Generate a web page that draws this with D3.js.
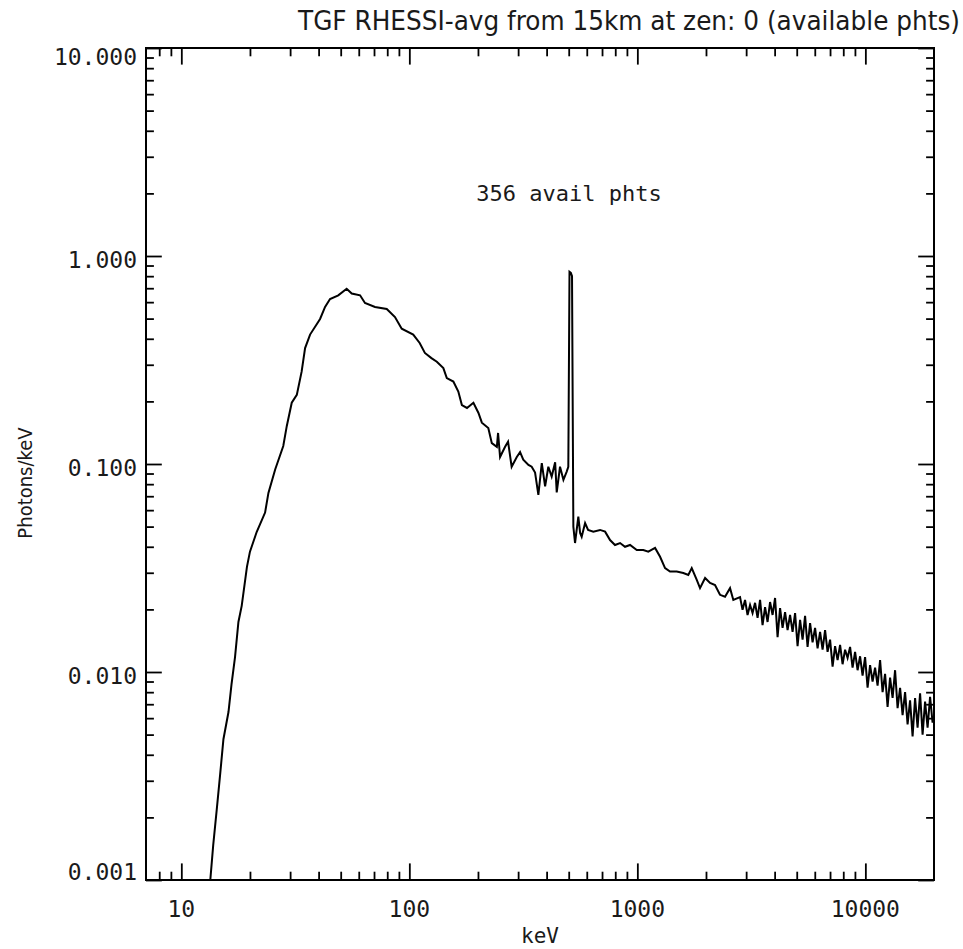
<!DOCTYPE html>
<html>
<head>
<meta charset="utf-8">
<script src="https://cdn.jsdelivr.net/npm/d3@7"></script>
<style>
  body { margin: 0; background: #fff; }
  text { font-family: "DejaVu Sans Condensed", "DejaVu Sans", sans-serif; fill: #1a1a1a; }
  .num { font-family: "DejaVu Sans Mono", "Liberation Mono", monospace; }
</style>
</head>
<body>
<div id="chart"></div>
<script>
// spectrum: energy (keV) and photons/keV
const energy = [13.4, 13.8, 14.3, 14.8, 15.3, 16.1, 16.6, 17.2, 17.8, 18.4, 19.4, 20.0, 21.4, 23.3, 24.1, 25.8,
  28.0, 29.0, 30.5, 32.1, 33.7, 34.9, 36.7, 40.6, 42.7, 44.9, 48.8, 53.1, 55.9, 60.8, 63.9, 70.7, 79.6, 86.5,
  92.6, 104, 111, 117, 125, 132, 141, 146, 156, 164, 170, 179, 191, 201, 208, 222, 230, 242, 245, 250, 263,
  271, 281, 296, 306, 316, 333, 344, 356, 368, 381, 394, 407, 421, 436, 443, 458, 474, 490, 498,
  504, 511, 517,
  524, 533, 551, 561, 570, 590, 608, 641, 686, 722, 759, 798, 840, 883, 929, 994, 1062, 1117, 1196, 1258,
  1323, 1391, 1488, 1591, 1673, 1732, 1822, 1883, 1982, 2084, 2191, 2304, 2424, 2550, 2636,
  2821, 2893, 2967, 3043, 3121, 3201, 3283, 3367, 3453, 3541, 3632, 3725, 3820, 3918, 4018, 4121, 4226,
  4334, 4445, 4559, 4675, 4795, 4918, 5043, 5172, 5305, 5440, 5579, 5722, 5868, 6018, 6172, 6330, 6492,
  6658, 6828, 7003, 7182, 7365, 7554, 7747, 7945, 8148, 8356, 8570, 8789, 9014, 9244, 9481, 9723, 9972,
  10227, 10488, 10756, 11031, 11313, 11603, 11899, 12203, 12515, 12835, 13164, 13500, 13845, 14199, 14562,
  14935, 15317, 15708, 16110, 16522, 16944, 17378, 17822, 18278, 18745, 19224, 19716];

const flux = [0.00100, 0.00147, 0.00218, 0.00322, 0.00475, 0.00642, 0.00871, 0.0118, 0.0174, 0.0208, 0.0320,
  0.0379, 0.0471, 0.0584, 0.0726, 0.0941, 0.122, 0.152, 0.197, 0.215, 0.278, 0.361, 0.419, 0.498, 0.569,
  0.621, 0.647, 0.696, 0.660, 0.647, 0.594, 0.569, 0.556, 0.509, 0.447, 0.419, 0.382, 0.342, 0.323, 0.310,
  0.289, 0.259, 0.249, 0.223, 0.192, 0.186, 0.197, 0.176, 0.158, 0.149, 0.126, 0.121, 0.141, 0.108, 0.121,
  0.128, 0.097, 0.108, 0.114, 0.105, 0.099, 0.097, 0.091, 0.071, 0.101, 0.078, 0.097, 0.087, 0.102, 0.073,
  0.097, 0.084, 0.092, 0.097,
  0.84, 0.83, 0.80,
  0.050, 0.0417, 0.0558, 0.0466, 0.0447, 0.0520, 0.0482, 0.0473, 0.0482, 0.0473, 0.0431, 0.0408, 0.0417,
  0.0400, 0.0408, 0.0386, 0.0386, 0.0379, 0.0395, 0.0358, 0.0316, 0.0304, 0.0304, 0.0299, 0.0293, 0.0316,
  0.0277, 0.0253, 0.0283, 0.0268, 0.0262, 0.0235, 0.0230, 0.0253, 0.0222,
  0.0229, 0.0199, 0.0222, 0.0188, 0.0210, 0.0192, 0.0215, 0.0182, 0.0222, 0.0168, 0.0205, 0.0174, 0.0217,
  0.0188, 0.0227, 0.0147, 0.0203, 0.0163, 0.0194, 0.0159, 0.0188, 0.0156, 0.0192, 0.0133, 0.0178, 0.0143,
  0.0186, 0.0132, 0.0172, 0.0139, 0.0163, 0.0130, 0.0156, 0.0128, 0.0159, 0.0125, 0.0143, 0.0106, 0.0133,
  0.0114, 0.0135, 0.0109, 0.0128, 0.0117, 0.0132, 0.0105, 0.0125, 0.0102, 0.0119, 0.0096, 0.0118, 0.0084,
  0.0108, 0.0090, 0.0105, 0.0086, 0.0114, 0.0080, 0.0098, 0.0068, 0.0094, 0.0075, 0.0102, 0.0067, 0.0084,
  0.0062, 0.0080, 0.0056, 0.0073, 0.0049, 0.0075, 0.0054, 0.0079, 0.0050, 0.0072, 0.0054, 0.0076, 0.0057];

const xMajor = [10, 100, 1000, 10000];
const yMajor = [0.001, 0.01, 0.1, 1, 10];
const xLabels = ["10", "100", "1000", "10000"];
const yLabels = ["0.001", "0.010", "0.100", "1.000", "10.000"];

const titleText = "TGF RHESSI-avg from 15km at zen: 0 (available phts)";
const noteText = "356 avail phts";

const W = 963, H = 949;
const mLeft = 146, mRight = 934, mTop = 48, mBottom = 880;

const svg = d3.select("#chart").append("svg")
  .attr("width", W)
  .attr("height", H);

const x = d3.scaleLog().domain([7, 20000]).range([mLeft, mRight]);
const y = d3.scaleLog().domain([0.001, 10]).range([mBottom, mTop]);

// minor ticks 2..9 in each decade
function minors(lo, hi) {
  const out = [];
  for (let d = Math.pow(10, Math.floor(Math.log10(lo))); d < hi; d *= 10) {
    for (let k = 2; k <= 9; k++) {
      const v = d * k;
      if (v > lo * 1.001 && v < hi * 0.999) out.push(v);
    }
  }
  return out;
}

const xMinor = minors(7, 20000);
const yMinor = minors(0.001, 10);

const majLenX = 16.6, minLenX = 8.3;   // vertical ticks on x axes
const majLenY = 15.8, minLenY = 7.9;   // horizontal ticks on y axes

svg.append("clipPath").attr("id", "plotclip")
  .append("rect")
  .attr("x", mLeft).attr("y", mTop)
  .attr("width", mRight - mLeft).attr("height", mBottom - mTop);

// tick marks, inward on all four sides
function tickGroup(axisFn, scale, vals, len, transform) {
  const g = svg.append("g")
    .attr("transform", transform)
    .call(axisFn(scale).tickValues(vals).tickSize(len).tickFormat(""));
  g.select(".domain").remove();
  g.selectAll("line").attr("stroke", "#000").attr("stroke-width", 1.8);
}

tickGroup(d3.axisBottom, x, xMajor, -majLenX, `translate(0,${mBottom})`);
tickGroup(d3.axisBottom, x, xMinor, -minLenX, `translate(0,${mBottom})`);
tickGroup(d3.axisTop, x, xMajor, -majLenX, `translate(0,${mTop})`);
tickGroup(d3.axisTop, x, xMinor, -minLenX, `translate(0,${mTop})`);
tickGroup(d3.axisLeft, y, yMajor, -majLenY, `translate(${mLeft},0)`);
tickGroup(d3.axisLeft, y, yMinor, -minLenY, `translate(${mLeft},0)`);
tickGroup(d3.axisRight, y, yMajor, -majLenY, `translate(${mRight},0)`);
tickGroup(d3.axisRight, y, yMinor, -minLenY, `translate(${mRight},0)`);

// frame
svg.append("rect")
  .attr("x", mLeft).attr("y", mTop)
  .attr("width", mRight - mLeft).attr("height", mBottom - mTop)
  .attr("fill", "none")
  .attr("stroke", "#000")
  .attr("stroke-width", 2);

// the spectrum
const pts = energy.map((e, i) => [e, flux[i]]);
const line = d3.line()
  .x(d => x(d[0]))
  .y(d => y(d[1]));

svg.append("path")
  .datum(pts)
  .attr("clip-path", "url(#plotclip)")
  .attr("fill", "none")
  .attr("stroke", "#000")
  .attr("stroke-width", 2)
  .attr("d", line);

// y tick labels
svg.append("g").selectAll("text")
  .data(yMajor)
  .join("text")
  .attr("class", "num")
  .attr("x", 137)
  .attr("y", d => y(d))
  .attr("dy", (d, i) => i === 0 ? "-0.02em" : (i === yMajor.length - 1 ? "0.76em" : "0.54em"))
  .attr("text-anchor", "end")
  .attr("font-size", 23)
  .text((d, i) => yLabels[i]);

// x tick labels
svg.append("g").selectAll("text")
  .data(xMajor)
  .join("text")
  .attr("class", "num")
  .attr("x", d => x(d))
  .attr("y", 917)
  .attr("text-anchor", "middle")
  .attr("font-size", 23)
  .text((d, i) => xLabels[i]);

// axis titles
svg.append("text")
  .attr("class", "num")
  .attr("x", (mLeft + mRight) / 2)
  .attr("y", 943)
  .attr("text-anchor", "middle")
  .attr("font-size", 21)
  .text("keV");

svg.append("text")
  .attr("transform", "translate(32,483) rotate(-90)")
  .attr("text-anchor", "middle")
  .attr("font-size", 20)
  .text("Photons/keV");

svg.append("text")
  .attr("x", 298)
  .attr("y", 30)
  .attr("font-size", 26)
  .attr("textLength", 662)
  .attr("lengthAdjust", "spacingAndGlyphs")
  .text(titleText);

svg.append("text")
  .attr("class", "num")
  .attr("x", 569)
  .attr("y", 201)
  .attr("text-anchor", "middle")
  .attr("font-size", 22)
  .text(noteText);
</script>
</body>
</html>
